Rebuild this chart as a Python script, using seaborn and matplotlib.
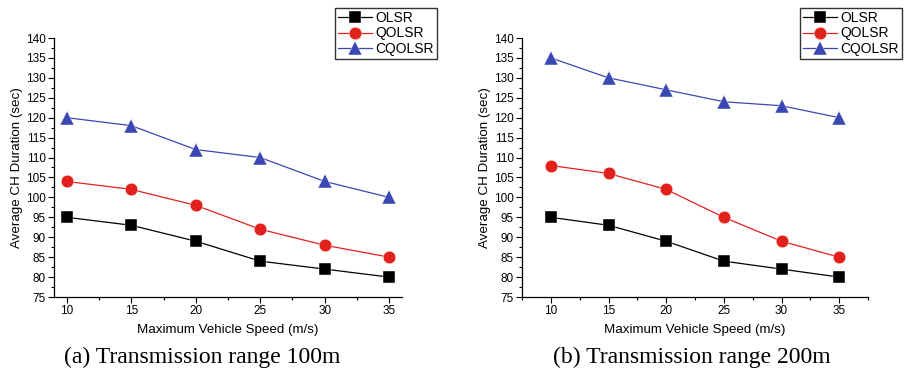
import numpy as np
import pandas as pd
import matplotlib.pyplot as plt
import seaborn as sns
from matplotlib.ticker import MultipleLocator

sns.set_style(
    {
        "axes.edgecolor": "0",
        "xtick.color": "black",
        "ytick.color": "black",
        "xtick.direction": "out",
        "ytick.direction": "out",
        "axes.spines.right": False,
        "axes.spines.top": False,
        "axes.facecolor": "white",
        "axes.grid": False,
        "xtick.bottom": True,
        "ytick.left": True,
    }
)
plt.rcParams['font.family'] = ['Liberation Sans', 'DejaVu Sans']

speed = [10, 15, 20, 25, 30, 35]
protocols = ['OLSR', 'QOLSR', 'CQOLSR']

olsr_100 = [95, 93, 89, 84, 82, 80]
qolsr_100 = [104, 102, 98, 92, 88, 85]
cqolsr_100 = [120, 118, 112, 110, 104, 100]

olsr_200 = [95, 93, 89, 84, 82, 80]
qolsr_200 = [108, 106, 102, 95, 89, 85]
cqolsr_200 = [135, 130, 127, 124, 123, 120]

captions = ['(a) Transmission range 100m', '(b) Transmission range 200m']

palette = {'OLSR': '#000000', 'QOLSR': '#e3211c', 'CQOLSR': '#3b47b3'}
markers = {'OLSR': 's', 'QOLSR': 'o', 'CQOLSR': '^'}


def make_df(a, b, c):
    rows = []
    for name, vals in zip(protocols, [a, b, c]):
        for s, v in zip(speed, vals):
            rows.append({'speed': s, 'duration': v, 'protocol': name})
    return pd.DataFrame(rows)


df_100 = make_df(olsr_100, qolsr_100, cqolsr_100)
df_200 = make_df(olsr_200, qolsr_200, cqolsr_200)

fig = plt.figure(figsize=(9.05, 3.7), dpi=100)
ax1 = fig.add_axes([54 / 905, 73 / 370, 348 / 905, 259 / 370])
ax2 = fig.add_axes([522 / 905, 73 / 370, 346 / 905, 259 / 370])

setups = [
    (ax1, df_100, (9, 36), 437, 202),
    (ax2, df_200, (7.5, 37.5), 902, 692),
]

for (ax, df, xlim, leg_x, cap_x), cap in zip(setups, captions):
    sns.lineplot(data=df, x='speed', y='duration', hue='protocol', style='protocol',
                 palette=palette, markers=markers, dashes=False, markersize=9,
                 markeredgewidth=0.3, linewidth=0.9, legend=False, ax=ax)
    lines = ax.get_lines()[:3]
    lines[2].set_markersize(10.5)
    ax.set_xlim(*xlim)
    ax.set_ylim(75, 140)
    ax.set_xticks(speed)
    ax.xaxis.set_minor_locator(MultipleLocator(2.5))
    ax.yaxis.set_major_locator(MultipleLocator(5))
    ax.yaxis.set_minor_locator(MultipleLocator(2.5))
    ax.tick_params(which='major', length=4, width=0.8, labelsize=8.5, pad=2)
    ax.tick_params(which='minor', length=2.5, width=0.8)
    for sp in ['left', 'bottom']:
        ax.spines[sp].set_linewidth(0.9)
    ax.set_xlabel('Maximum Vehicle Speed (m/s)', fontsize=9.6, labelpad=5)
    ax.set_ylabel('Average CH Duration (sec)', fontsize=9.6, labelpad=2)
    leg = ax.legend(lines, protocols, loc='upper right',
                    bbox_to_anchor=(leg_x / 905, 1 - 8 / 370),
                    bbox_transform=fig.transFigure, fancybox=False,
                    edgecolor='black', fontsize=10, borderpad=0.2,
                    labelspacing=0.12, handlelength=2.4, handletextpad=0.3,
                    borderaxespad=0)
    leg.get_frame().set_linewidth(1.0)
    fig.text(cap_x / 905, 1 - 357 / 370, cap, ha='center', va='center',
             fontsize=17, family=['Liberation Serif', 'DejaVu Serif'])

fig.savefig('out.png', dpi=100)
